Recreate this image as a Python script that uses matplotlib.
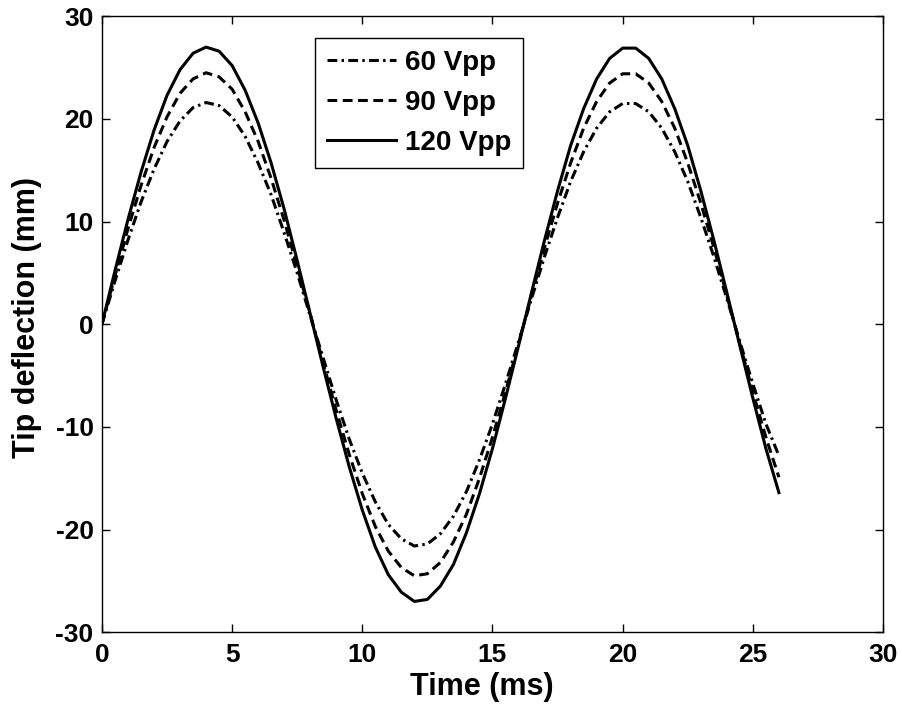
import matplotlib
matplotlib.use("Agg")

import matplotlib.pyplot as plt

# time samples (ms)
time_ms = [0.0, 0.5, 1.0, 1.5, 2.0, 2.5, 3.0, 3.5, 4.0, 4.5,
           5.0, 5.5, 6.0, 6.5, 7.0, 7.5, 8.0, 8.5, 9.0, 9.5,
           10.0, 10.5, 11.0, 11.5, 12.0, 12.5, 13.0, 13.5, 14.0, 14.5,
           15.0, 15.5, 16.0, 16.5, 17.0, 17.5, 18.0, 18.5, 19.0, 19.5,
           20.0, 20.5, 21.0, 21.5, 22.0, 22.5, 23.0, 23.5, 24.0, 24.5,
           25.0, 25.5, 26.0]

# tip deflection (mm)
defl_60 = [0.0, 4.2, 8.2, 11.9, 15.1, 17.8, 19.8, 21.1, 21.6, 21.3,
           20.2, 18.3, 15.7, 12.6, 8.9, 5.0, 0.8, -3.3, -7.4, -11.2,
           -14.5, -17.3, -19.5, -20.9, -21.6, -21.4, -20.4, -18.7, -16.3, -13.2,
           -9.7, -5.8, -1.7, 2.5, 6.6, 10.4, 13.9, 16.8, 19.1, 20.7,
           21.5, 21.5, 20.7, 19.1, 16.8, 13.9, 10.4, 6.6, 2.5, -1.7,
           -5.8, -9.7, -12.8]
defl_90 = [0.0, 4.7, 9.3, 13.5, 17.2, 20.2, 22.5, 23.9, 24.5, 24.1,
           22.9, 20.7, 17.8, 14.2, 10.1, 5.6, 1.0, -3.8, -8.4, -12.7,
           -16.5, -19.7, -22.1, -23.7, -24.5, -24.3, -23.2, -21.2, -18.5, -15.0,
           -11.0, -6.6, -1.9, 2.8, 7.5, 11.8, 15.7, 19.1, 21.7, 23.5,
           24.4, 24.4, 23.5, 21.7, 19.1, 15.7, 11.8, 7.5, 2.8, -1.9,
           -6.6, -11.0, -14.9]
defl_120 = [0.0, 5.2, 10.2, 14.8, 18.9, 22.3, 24.8, 26.4, 27.0, 26.6,
            25.2, 22.8, 19.6, 15.7, 11.2, 6.2, 1.0, -4.2, -9.2, -13.9,
            -18.1, -21.7, -24.4, -26.1, -27.0, -26.8, -25.5, -23.4, -20.3, -16.5,
            -12.1, -7.2, -2.1, 3.1, 8.2, 13.0, 17.4, 21.0, 23.9, 25.9,
            26.9, 26.9, 25.9, 23.9, 21.0, 17.4, 13.0, 8.2, 3.1, -2.1,
            -7.2, -12.1, -16.4]

labels = ["60 Vpp", "90 Vpp", "120 Vpp"]
x_ticks = [0, 5, 10, 15, 20, 25, 30]
y_ticks = [-30, -20, -10, 0, 10, 20, 30]

plt.rcParams["font.family"] = ["Liberation Sans", "DejaVu Sans"]
plt.rcParams["font.weight"] = "bold"
plt.rcParams["axes.unicode_minus"] = False

fig = plt.figure(figsize=(9.02, 7.08), dpi=100)
ax = fig.add_axes([0.113, 0.107, 0.866, 0.870])

ax.plot(time_ms, defl_60, color="black", lw=2.2, linestyle=(0, (3.2, 1.4, 0.8, 1.4)), label=labels[0])
ax.plot(time_ms, defl_90, color="black", lw=2.2, linestyle=(0, (3.2, 1.8)), label=labels[1])
ax.plot(time_ms, defl_120, color="black", lw=2.2, linestyle="-", label=labels[2])

ax.set_xlim(0, 30)
ax.set_ylim(-30, 30)
ax.set_xticks(x_ticks)
ax.set_yticks(y_ticks)
ax.tick_params(direction="in", length=6, width=1, top=True, right=True,
               labelsize=19)
ax.tick_params(axis="x", pad=8)
ax.tick_params(axis="y", pad=6)
for lab in ax.get_xticklabels() + ax.get_yticklabels():
    lab.set_fontweight("bold")
for sp in ax.spines.values():
    sp.set_linewidth(1.0)

ax.set_xlabel("Time (ms)", fontsize=22, fontweight="bold")
ax.xaxis.set_label_coords(0.486, -0.065)
ax.set_ylabel("Tip deflection (mm)", fontsize=22, fontweight="bold")
ax.yaxis.set_label_coords(-0.077, 0.511)

leg = ax.legend(loc="upper left", bbox_to_anchor=(0.273, 0.964), borderaxespad=0,
                fontsize=20, handlelength=2.5, handletextpad=0.3,
                labelspacing=0.5, fancybox=False, framealpha=1,
                edgecolor="black", borderpad=0.42)
leg.get_frame().set_linewidth(1.0)
for t in leg.get_texts():
    t.set_fontweight("bold")

fig.savefig("out.png", dpi=100)
